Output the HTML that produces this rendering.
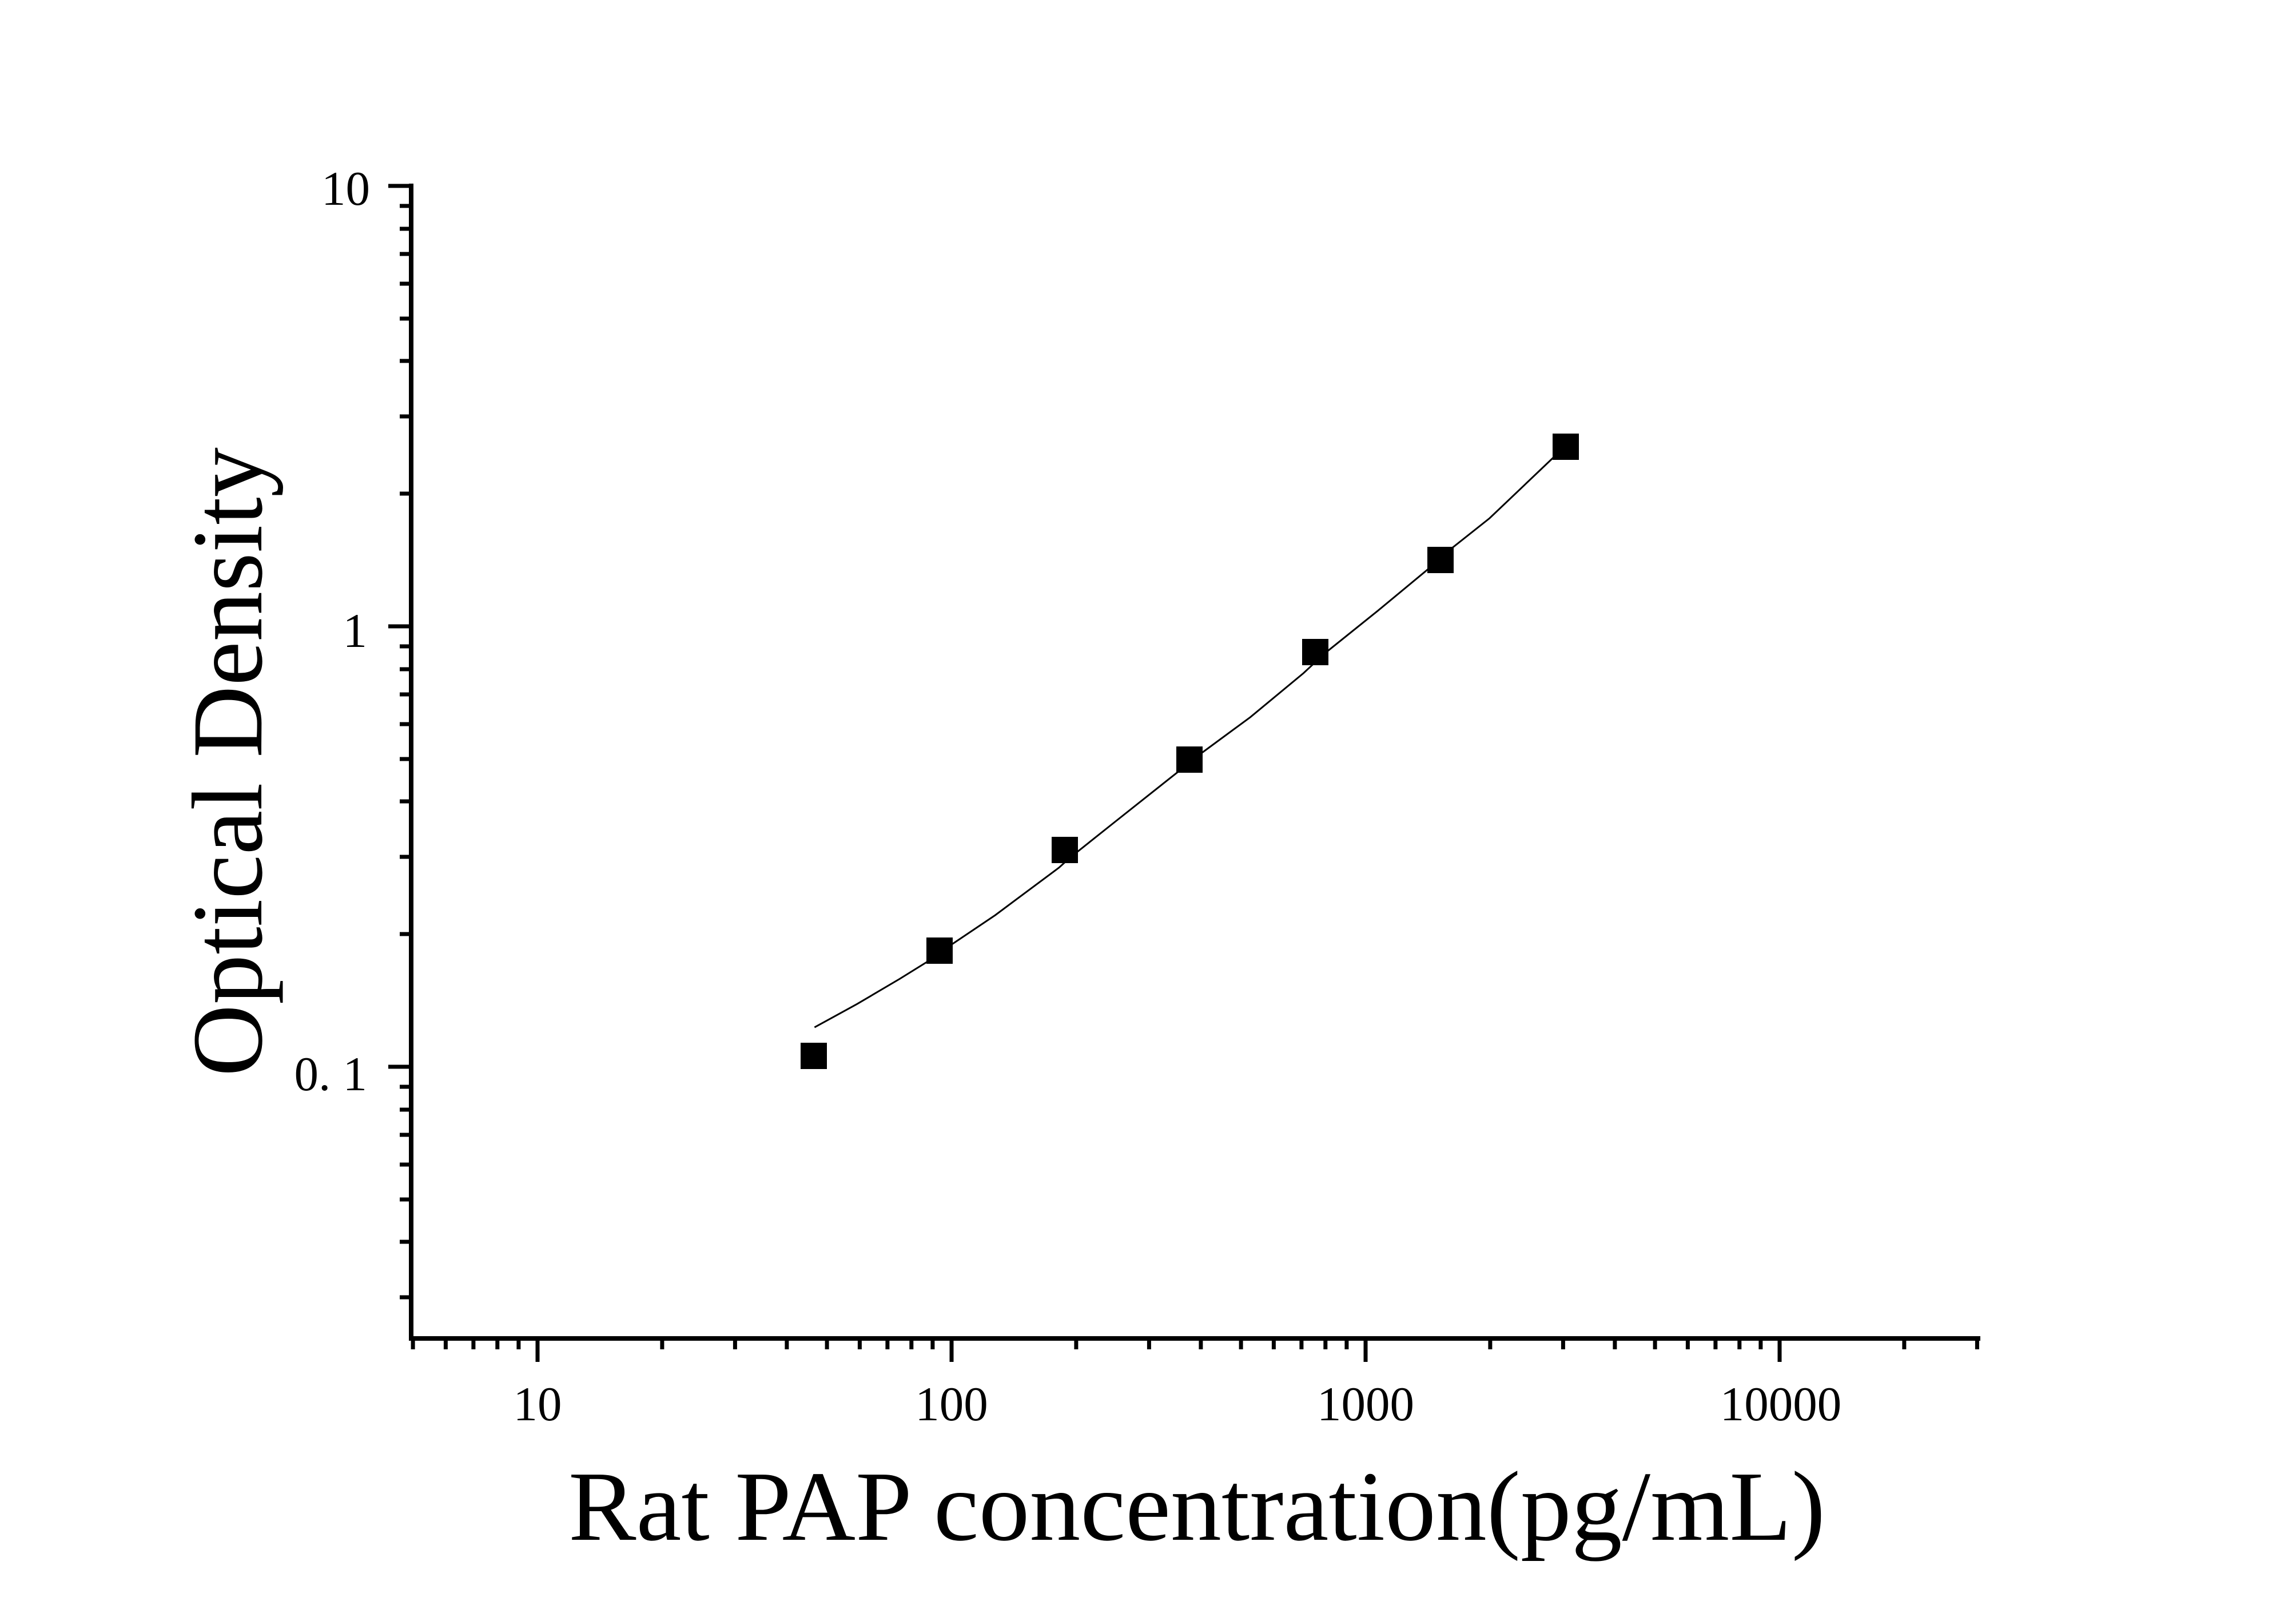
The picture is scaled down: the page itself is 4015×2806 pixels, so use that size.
<!DOCTYPE html>
<html><head><meta charset="utf-8"><style>
html,body{margin:0;padding:0;background:#fff;}
svg{display:block;}
text{font-family:"Liberation Serif","Times New Roman",serif;fill:#000;}
</style></head><body>
<svg width="4015" height="2806" viewBox="0 0 4015 2806" xmlns="http://www.w3.org/2000/svg">
<rect width="4015" height="2806" fill="#fff"/>
<line x1="719" y1="321" x2="719" y2="2344" stroke="#000" stroke-width="8"/>
<line x1="715" y1="2340" x2="3463" y2="2340" stroke="#000" stroke-width="8"/>
<g stroke="#000" stroke-width="7">
<line x1="679" y1="325" x2="719" y2="325"/>
<line x1="679" y1="1095" x2="719" y2="1095"/>
<line x1="679" y1="1865" x2="719" y2="1865"/>
</g>
<g stroke="#000" stroke-width="7">
<line x1="699" y1="360" x2="719" y2="360"/><line x1="699" y1="400" x2="719" y2="400"/>
<line x1="699" y1="444" x2="719" y2="444"/><line x1="699" y1="496" x2="719" y2="496"/>
<line x1="699" y1="557" x2="719" y2="557"/><line x1="699" y1="631" x2="719" y2="631"/>
<line x1="699" y1="728" x2="719" y2="728"/><line x1="699" y1="863" x2="719" y2="863"/>
<line x1="699" y1="1130" x2="719" y2="1130"/><line x1="699" y1="1170" x2="719" y2="1170"/>
<line x1="699" y1="1214" x2="719" y2="1214"/><line x1="699" y1="1266" x2="719" y2="1266"/>
<line x1="699" y1="1327" x2="719" y2="1327"/><line x1="699" y1="1401" x2="719" y2="1401"/>
<line x1="699" y1="1498" x2="719" y2="1498"/><line x1="699" y1="1633" x2="719" y2="1633"/>
<line x1="699" y1="1900" x2="719" y2="1900"/><line x1="699" y1="1940" x2="719" y2="1940"/>
<line x1="699" y1="1984" x2="719" y2="1984"/><line x1="699" y1="2036" x2="719" y2="2036"/>
<line x1="699" y1="2097" x2="719" y2="2097"/><line x1="699" y1="2171" x2="719" y2="2171"/>
<line x1="699" y1="2268" x2="719" y2="2268"/>
</g>
<g stroke="#000" stroke-width="7" id="xticks"></g>
<g font-size="85">
<text x="647" y="358" text-anchor="end">10</text>
<text x="642" y="1131" text-anchor="end">1</text>
<text x="642" y="1906" text-anchor="end">0. 1</text>
<text x="940" y="2483" text-anchor="middle">10</text>
<text x="1664" y="2483" text-anchor="middle">100</text>
<text x="2388" y="2483" text-anchor="middle">1000</text>
<text x="3114" y="2483" text-anchor="middle">10000</text>
</g>
<text x="994" y="2692" font-size="174" textLength="2198" lengthAdjust="spacingAndGlyphs">Rat PAP concentration(pg/mL)</text>
<text transform="translate(457,1882) rotate(-90)" x="0" y="0" font-size="176" textLength="1100" lengthAdjust="spacingAndGlyphs">Optical Density</text>
<g transform="translate(1350,700) scale(0.9294,0.7692)">
<polyline fill="none" stroke="#000" stroke-width="3" vector-effect="non-scaling-stroke" points="80,1425 160,1372 240,1315 300,1270 340,1235 420,1170 540,1062 560,1040 640,963 760,848 810,800 900,720 1000,620 1040,575 1140,478 1230,388 1280,335 1350,268 1470,130"/>
</g>
<g fill="#000">
<rect x="1400" y="1823" width="46" height="46"/>
<rect x="1620" y="1639" width="46" height="46"/>
<rect x="1839" y="1463" width="46" height="46"/>
<rect x="2057" y="1305" width="46" height="46"/>
<rect x="2277" y="1117" width="46" height="46"/>
<rect x="2496" y="956" width="46" height="46"/>
<rect x="2715" y="758" width="46" height="46"/>
</g>
<script>
(function(){
var g=document.getElementById('xticks');var ns='http://www.w3.org/2000/svg';
function add(x,y2){var l=document.createElementNS(ns,'line');l.setAttribute('x1',x);l.setAttribute('x2',x);l.setAttribute('y1',2344);l.setAttribute('y2',y2);g.appendChild(l);}
var base=940,dec=724;
for(var d=0;d<5;d++){for(var m=1;m<10;m++){var v=Math.pow(10,d)*m;if(v<5||v>30000)continue;var x=base+dec*(Math.log10(v)-1);add(x.toFixed(1),m==1?2381:2359);}}
})();
</script>
</svg>
</body></html>
